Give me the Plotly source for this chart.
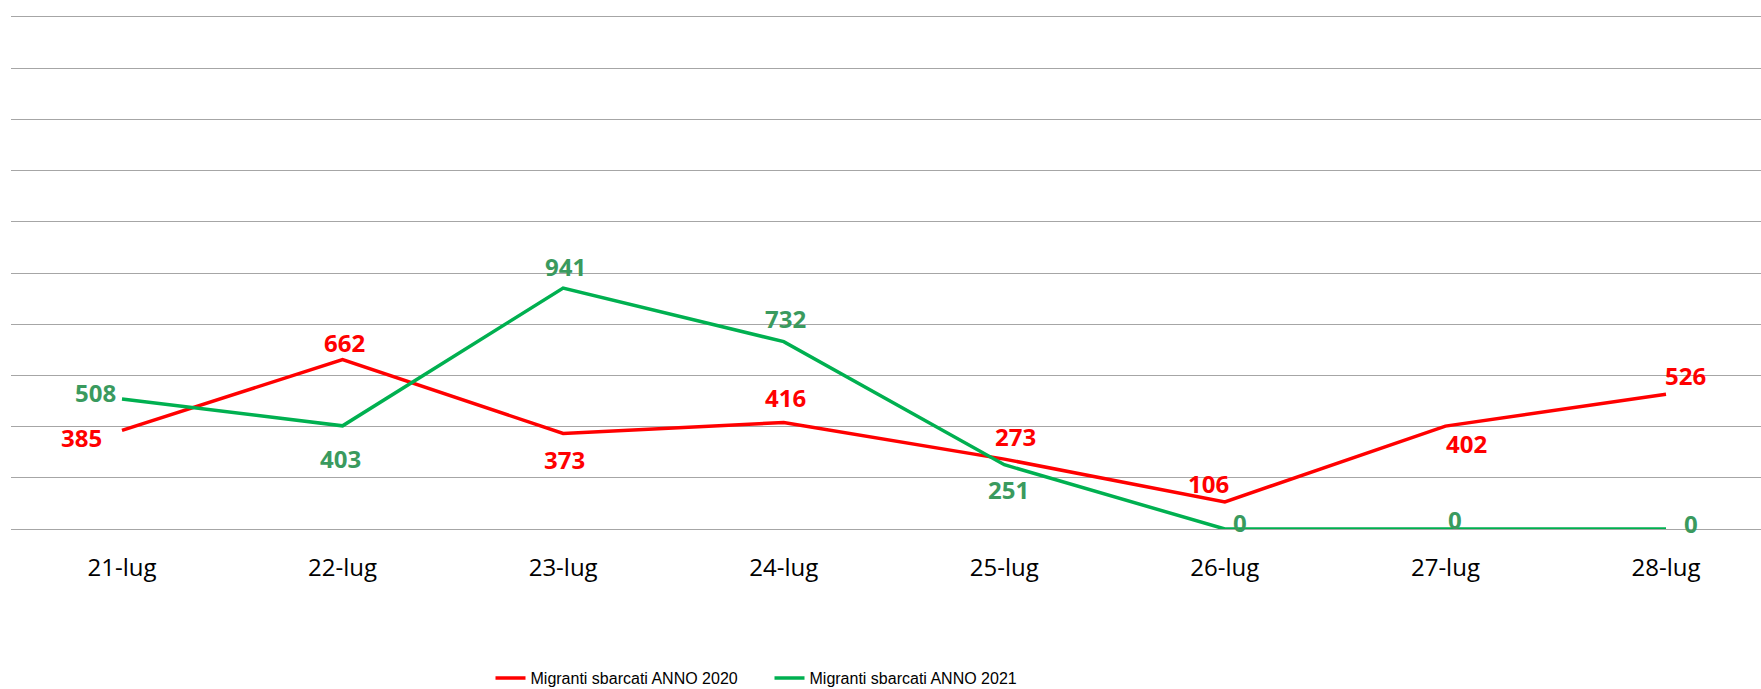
import plotly.graph_objects as go

dates = ["21-lug", "22-lug", "23-lug", "24-lug", "25-lug", "26-lug", "27-lug", "28-lug"]
anno_2020 = [385, 662, 373, 416, 273, 106, 402, 526]
anno_2021 = [508, 403, 941, 732, 251, 0, 0, 0]
name_2020 = "Migranti sbarcati ANNO 2020"
name_2021 = "Migranti sbarcati ANNO 2021"

# label offsets in pixels (xshift, yshift)
off_2020 = [(-40, -7), (2, 17), (1, -26), (2, 25), (11, 23), (-16, 18), (21, -17), (19, 19)]
off_2021 = [(-26, 6), (-2, -33), (2, 22), (2, 23), (4, -25), (15, 7), (10, 10), (25, 6)]

RED = "#FF0000"
GREEN = "#00B050"
GREEN_LBL = "#3A9A5E"
GRID = "#A6A6A6"

fig = go.Figure()
fig.add_trace(go.Scatter(x=dates, y=anno_2020, mode="lines", name=name_2020,
                         line=dict(color=RED, width=3.5)))
fig.add_trace(go.Scatter(x=dates, y=anno_2021, mode="lines", name=name_2021,
                         line=dict(color=GREEN, width=3.5)))

annotations = []
for vals, offs, col in ((anno_2020, off_2020, RED), (anno_2021, off_2021, GREEN_LBL)):
    for d, v, (dx, dy) in zip(dates, vals, offs):
        annotations.append(dict(x=d, y=v, text=str(v), showarrow=False,
                                xshift=dx, yshift=dy,
                                font=dict(family="Open Sans", size=24, color=col, weight="bold")))

fig.update_layout(
    width=1761, height=689,
    margin=dict(l=11, r=0, t=17, b=160, autoexpand=False),
    paper_bgcolor="white", plot_bgcolor="white",
    annotations=annotations,
    showlegend=True,
    legend=dict(orientation="h", x=0.274, xanchor="left",
                yref="container", y=1 - 678 / 689, yanchor="middle",
                entrywidth=234, entrywidthmode="pixels",
                font=dict(family="Liberation Sans", size=16, color="#000000")),
    xaxis=dict(type="category", range=[-0.5032, 7.4307], showgrid=False, zeroline=False,
               showline=True, mirror=True, linecolor=GRID, linewidth=1.2, layer="below traces",
               ticks="", ticklabelstandoff=17,
               tickfont=dict(family="Open Sans", size=24, color="#000000")),
    yaxis=dict(range=[0, 2000], dtick=200, showgrid=True, gridcolor=GRID, gridwidth=1.2,
               zeroline=False, showline=False, showticklabels=False, ticks=""),
)

fig.write_html("out.html", config={"displayModeBar": False},
               post_script="document.body.style.margin='0';document.body.style.padding='0';")
